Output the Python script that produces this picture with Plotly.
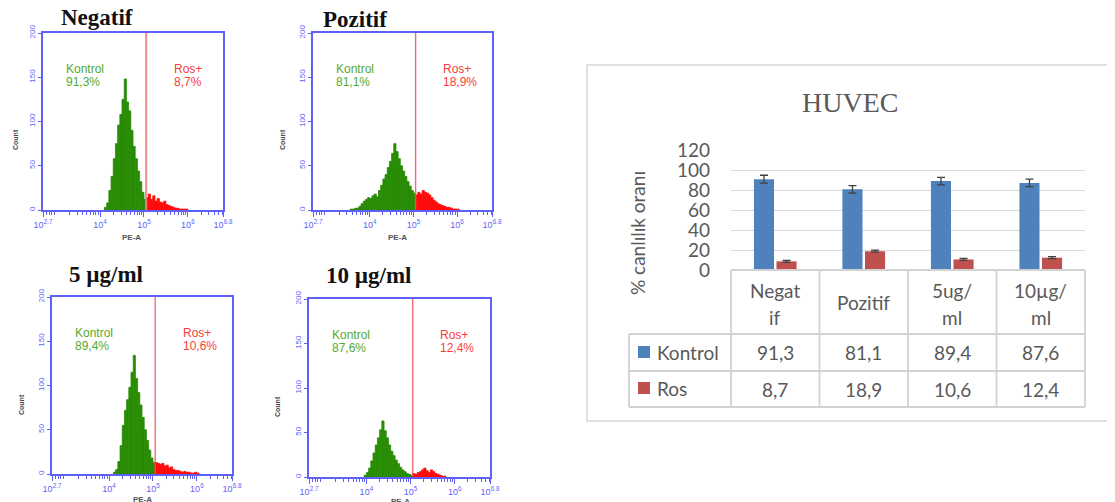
import math
import plotly.graph_objects as go

# The page body adds an 8px offset; lay out in reference-pixel coordinates
OFF = 8
W, H = 1115 - OFF, 502 - OFF


def px(x):
    return (x - OFF) / W


def py(y):
    return 1 - (y - OFF) / H


# ---------------- data ----------------
panel_titles = ["Negatif", "Pozitif", "5 µg/ml", "10 µg/ml"]
bar_categories = ["Negatif", "Pozitif", "5ug/ml", "10µg/ml"]
header_lines = [["Negat", "if"], ["Pozitif"], ["5ug/", "ml"], ["10µg/", "ml"]]
series_names = ["Kontrol", "Ros"]
kontrol_pct = [91.3, 81.1, 89.4, 87.6]
ros_pct = [8.7, 18.9, 10.6, 12.4]
kontrol_err = [4.0, 3.8, 3.8, 3.8]
ros_err = [1.0, 1.0, 1.0, 1.0]

# flow-cytometry histograms (log10 PE-A bins, width 0.05 decade)
hist_bin_width = 0.05
gate_log = 5.05

neg_kontrol_start = 4.10
neg_kontrol_counts = [3, 8, 22, 38, 58, 75, 96, 108, 125, 148, 122, 112, 90, 72, 58, 44, 32, 20, 12]
neg_ros_counts = [14, 18, 12, 16, 10, 13, 9, 8, 10, 6, 5, 4, 3, 2, 2, 1, 1, 1, 1]

poz_kontrol_start = 3.55
poz_kontrol_counts = [1, 1, 2, 2, 4, 7, 10, 12, 14, 13, 16, 18, 15, 22, 28, 35, 40, 48, 55, 64,
                      75, 66, 58, 50, 44, 38, 32, 27, 22, 19]
poz_ros_counts = [17, 20, 18, 22, 20, 19, 17, 14, 11, 9, 7, 6, 5, 4, 3, 3, 2, 1, 1, 1]

d5_kontrol_start = 4.10
d5_kontrol_counts = [2, 5, 14, 32, 55, 72, 84, 98, 115, 134, 108, 92, 78, 64, 50, 38, 27, 18, 13]
d5_ros_counts = [13, 12, 11, 12, 9, 10, 7, 8, 5, 4, 4, 3, 2, 3, 2, 2, 1, 1, 2, 1]

d10_kontrol_start = 3.95
d10_kontrol_counts = [2, 5, 10, 18, 27, 36, 44, 53, 63, 52, 44, 36, 29, 24, 19, 15, 11, 8, 6, 4, 3, 2]
d10_ros_counts = [4, 3, 5, 6, 8, 10, 7, 5, 8, 6, 4, 3, 2, 1, 1]

hist_x_range = [2.7, 6.8]
hist_x_tickvals = [2.7, 4, 5, 6, 6.8]
hist_x_ticktext = ["10<sup>2.7</sup>", "10<sup>4</sup>", "10<sup>5</sup>", "10<sup>6</sup>", "10<sup>6.8</sup>"]
hist_y_tickvals = [0, 50, 100, 150, 200]

bar_y_tickvals = [0, 20, 40, 60, 80, 100, 120]

hist_data = [
    (neg_kontrol_start, neg_kontrol_counts, neg_ros_counts),
    (poz_kontrol_start, poz_kontrol_counts, poz_ros_counts),
    (d5_kontrol_start, d5_kontrol_counts, d5_ros_counts),
    (d10_kontrol_start, d10_kontrol_counts, d10_ros_counts),
]

# ---------------- layout constants (reference pixels) ----------------
boxes = [(43, 223, 33, 210), (313, 492, 33, 210), (52, 232, 297, 474), (309, 490, 299, 477)]
title_pos = [(97, 18), (355, 19), (106, 274), (368, 275)]
count_pos = [(15, 140), (282, 140), (21, 405), (277, 407)]
pea_pos = [(131, 237), (398, 237), (142, 499), (400, 501)]
gate_styles = [("rgba(240,130,145,0.9)", 2.2), ("rgba(240,90,105,0.9)", 1.4),
               ("rgba(240,80,95,0.9)", 1.3), ("rgba(240,80,95,0.9)", 1.3)]

BLUE = "rgb(95,95,250)"
GREEN = "rgb(40,140,5)"
RED = "rgb(255,10,10)"
LBL_GREEN = "rgb(85,170,45)"
LBL_RED = "rgb(250,60,60)"
GRAY_TXT = "#595959"
GRID = "#d9d9d9"
KONTROL_COLOR = "#4F81BD"
ROS_COLOR = "#C0504D"

minor_vals = [d + math.log10(k) for d in range(2, 7) for k in range(2, 10)
              if hist_x_range[0] < d + math.log10(k) < hist_x_range[1]]

fig = go.Figure()
layout = dict(
    width=W, height=H, autosize=False,
    margin=dict(l=0, r=0, t=0, b=0, pad=0, autoexpand=False),
    paper_bgcolor="white", plot_bgcolor="white",
    showlegend=False,
    barmode="group", bargap=0.49, bargroupgap=0.11,
    font=dict(family="Liberation Sans, Arial, sans-serif"),
)
annotations = []
shapes = []

for i, (start, kc, rc) in enumerate(hist_data):
    n = i + 1
    xa = "x" if n == 1 else f"x{n}"
    ya = "y" if n == 1 else f"y{n}"
    xcent = [start + (j + 0.5) * hist_bin_width for j in range(len(kc))]
    xcent += [gate_log + (j + 0.5) * hist_bin_width for j in range(len(rc))]
    colors = [GREEN] * len(kc) + [RED] * len(rc)
    fig.add_trace(go.Bar(
        x=xcent, y=list(kc) + list(rc), width=hist_bin_width,
        marker=dict(color=colors, line=dict(width=0.8, color=colors)),
        xaxis=xa, yaxis=ya, hoverinfo="skip",
    ))
    L, R, T, B = boxes[i]
    layout[f"xaxis{'' if n == 1 else n}"] = dict(
        domain=[px(L), px(R)], anchor=ya, range=hist_x_range, automargin=False,
        tickmode="array", tickvals=hist_x_tickvals, ticktext=hist_x_ticktext,
        ticks="outside", ticklen=5, tickcolor=BLUE, tickwidth=1,
        tickfont=dict(size=9, color=BLUE), tickangle=0,
        minor=dict(tickmode="array", tickvals=minor_vals, ticks="outside",
                   ticklen=3, tickcolor=BLUE, tickwidth=1),
        showline=True, mirror=True, linecolor=BLUE, linewidth=1.5,
        showgrid=False, zeroline=False, fixedrange=True,
    )
    layout[f"yaxis{'' if n == 1 else n}"] = dict(
        domain=[py(B), py(T)], anchor=xa, range=[0, 200], automargin=False,
        tickmode="array", tickvals=hist_y_tickvals,
        ticks="outside", ticklen=3, tickcolor=BLUE,
        tickfont=dict(size=8, color=BLUE), tickangle=-90,
        showline=True, mirror=True, linecolor=BLUE, linewidth=1.5,
        showgrid=False, zeroline=False, fixedrange=True,
    )
    gc, gw = gate_styles[i]
    shapes.append(dict(type="line", xref=xa, yref=f"{ya} domain", x0=gate_log, x1=gate_log,
                       y0=0, y1=1, line=dict(color=gc, width=gw), layer="above"))
    tx, ty = title_pos[i]
    annotations.append(dict(text=f"<b>{panel_titles[i]}</b>", x=px(tx), y=py(ty), xref="paper", yref="paper",
                            showarrow=False, xanchor="center", yanchor="middle",
                            font=dict(family="Liberation Serif, Times New Roman, serif", size=23, color="#111")))
    cx, cy = count_pos[i]
    annotations.append(dict(text="<b>Count</b>", x=px(cx), y=py(cy), xref="paper", yref="paper",
                            showarrow=False, textangle=-90, xanchor="center", yanchor="middle",
                            font=dict(size=7, color="#444")))
    ex, ey = pea_pos[i]
    annotations.append(dict(text="<b>PE-A</b>", x=px(ex), y=py(ey), xref="paper", yref="paper",
                            showarrow=False, xanchor="center", yanchor="middle",
                            font=dict(size=8, color="#555")))
    kp = f"{kontrol_pct[i]:.1f}".replace(".", ",") + "%"
    rp = f"{ros_pct[i]:.1f}".replace(".", ",") + "%"
    for txt, xx, yy, col in [("Kontrol", 3.17, 159, LBL_GREEN), (kp, 3.17, 145, LBL_GREEN),
                             ("Ros+", 5.63, 159, LBL_RED), (rp, 5.63, 145, LBL_RED)]:
        annotations.append(dict(text=txt, x=xx, y=yy, xref=xa, yref=ya, showarrow=False,
                                xanchor="left", yanchor="middle",
                                font=dict(size=12, color=col)))

# ---------------- bar chart with data table ----------------
PL, PR, PT, PB = 731, 1085, 150.7, 270
for name, vals, errs, col in [(series_names[0], kontrol_pct, kontrol_err, KONTROL_COLOR),
                              (series_names[1], ros_pct, ros_err, ROS_COLOR)]:
    fig.add_trace(go.Bar(
        name=name, x=bar_categories, y=vals,
        marker=dict(color=col, line=dict(width=0)),
        error_y=dict(type="data", array=errs, color="#404040", thickness=1.3, width=4),
        xaxis="x5", yaxis="y5",
    ))

layout["xaxis5"] = dict(domain=[px(PL), px(PR)], anchor="y5", type="category", automargin=False,
                        showticklabels=False, showgrid=False, zeroline=False, showline=False,
                        ticks="", fixedrange=True)
layout["yaxis5"] = dict(domain=[py(PB), py(PT)], anchor="x5", range=[0, 120], automargin=False,
                        tickmode="array", tickvals=bar_y_tickvals,
                        tickfont=dict(family="Lato, Open Sans, sans-serif", size=19, color=GRAY_TXT),
                        showgrid=True, gridcolor=GRID, gridwidth=1.3, zeroline=False,
                        showline=False, ticks="", ticklabelstandoff=20, fixedrange=True)

shapes.append(dict(type="rect", xref="paper", yref="paper", x0=px(587), x1=px(1125), y0=py(421), y1=py(65),
                   line=dict(color="#d6d6d6", width=1.5), fillcolor="rgba(0,0,0,0)", layer="below"))

annotations.append(dict(text="HUVEC", x=px(850), y=py(103), xref="paper", yref="paper", showarrow=False,
                        xanchor="center", yanchor="middle",
                        font=dict(family="Liberation Serif, Times New Roman, serif", size=28, color=GRAY_TXT)))
annotations.append(dict(text="% canlılık oranı", x=px(637), y=py(233), xref="paper", yref="paper",
                        showarrow=False, textangle=-90, xanchor="center", yanchor="middle",
                        font=dict(family="Lato, Open Sans, sans-serif", size=19, color=GRAY_TXT)))

TBL = "#d2d2d2"
col_x = [731, 819.5, 908, 996.5, 1085]
row_y = [270, 334, 371, 407]
shapes.append(dict(type="line", xref="paper", yref="paper", x0=px(731), x1=px(1085), y0=py(270), y1=py(270),
                   line=dict(color=TBL, width=1.8)))
for yy in row_y[1:]:
    shapes.append(dict(type="line", xref="paper", yref="paper", x0=px(629), x1=px(1085), y0=py(yy), y1=py(yy),
                       line=dict(color=TBL, width=1.8)))
for xx in col_x:
    shapes.append(dict(type="line", xref="paper", yref="paper", x0=px(xx), x1=px(xx), y0=py(270), y1=py(407),
                       line=dict(color=TBL, width=1.8)))
shapes.append(dict(type="line", xref="paper", yref="paper", x0=px(629), x1=px(629), y0=py(334), y1=py(407),
                   line=dict(color=TBL, width=1.8)))

TFONT = dict(family="Lato, Open Sans, sans-serif", size=19, color=GRAY_TXT)
for cat, lines in zip(bar_categories, header_lines):
    if len(lines) == 1:
        annotations.append(dict(text=lines[0], x=cat, y=py(302), xref="x5", yref="paper", showarrow=False,
                                xanchor="center", yanchor="middle", font=TFONT))
    else:
        for ln, yy in zip(lines, [290, 317]):
            annotations.append(dict(text=ln, x=cat, y=py(yy), xref="x5", yref="paper", showarrow=False,
                                    xanchor="center", yanchor="middle", font=TFONT))

for vals, yy in [(kontrol_pct, 352), (ros_pct, 389)]:
    for cat, v in zip(bar_categories, vals):
        annotations.append(dict(text=f"{v:.1f}".replace(".", ","), x=cat, y=py(yy), xref="x5", yref="paper",
                                showarrow=False, xanchor="center", yanchor="middle", font=TFONT))

for name, col, yy in [(series_names[0], KONTROL_COLOR, 352), (series_names[1], ROS_COLOR, 388)]:
    shapes.append(dict(type="rect", xref="paper", yref="paper", x0=px(638), x1=px(650),
                       y0=py(yy + 6), y1=py(yy - 6), fillcolor=col, line=dict(width=0)))
    annotations.append(dict(text=name, x=px(655), y=py(yy), xref="paper", yref="paper", showarrow=False,
                            xanchor="left", yanchor="middle", font=TFONT))

layout["annotations"] = annotations
layout["shapes"] = shapes
fig.update_layout(**layout)
fig.write_html("out.html")
